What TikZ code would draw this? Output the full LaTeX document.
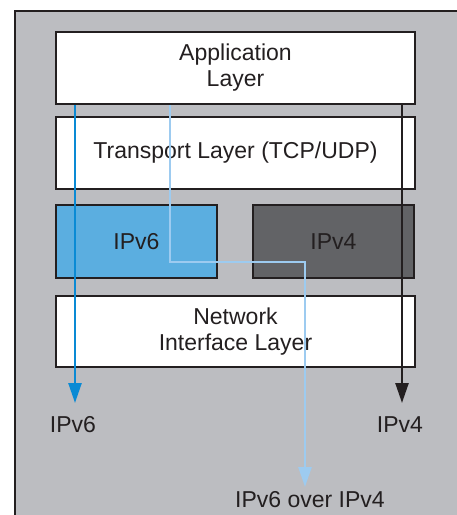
\documentclass[tikz,border=0pt]{standalone}
\usepackage{fontspec}
\setmainfont{Liberation Sans}
\usetikzlibrary{arrows.meta}
\definecolor{bggray}{HTML}{BCBDC1}
\definecolor{edge}{HTML}{231F20}
\definecolor{v6fill}{HTML}{5BAEE0}
\definecolor{v4fill}{HTML}{626366}
\definecolor{v6line}{HTML}{0A8AD4}
\definecolor{tunline}{HTML}{9DCBF0}
\begin{document}
\begin{tikzpicture}[x=1pt,y=-1pt,
  layer/.style={draw=edge,line width=1.8pt,fill=white,minimum width=359pt,inner sep=0pt,
    align=center,font=\fontsize{23}{26}\selectfont,text=edge},
  half/.style={layer,minimum width=161pt,minimum height=73pt},
  lbl/.style={font=\fontsize{23}{26}\selectfont,text=edge,inner sep=0pt,anchor=base},
  flow/.style={line width=2.5pt,-{Triangle[length=20pt,width=13pt]}}]
\useasboundingbox (0,0) rectangle (457,515);
\clip (0,0) rectangle (457,515);
\draw[fill=bggray,draw=edge,line width=2.5pt] (15,11) rectangle (480,540);
\node[layer,minimum height=72pt] (app) at (235.5,68) {Application\\Layer};
\node[layer,minimum height=72pt] (trans) at (235.5,153) {Transport Layer (TCP/UDP)};
\node[half,fill=v6fill] (ip6) at (136.5,241.5) {IPv6};
\node[half,fill=v4fill] (ip4) at (333.5,241.5) {IPv4};
\node[layer,minimum height=71pt] (net) at (235.5,331.5) {Network\\Interface Layer};
\node[lbl] (l6) at (73,432) {IPv6};
\node[lbl] (l4) at (400,432) {IPv4};
\node[lbl] (lt) at (310,507) {IPv6 over IPv4};
\coordinate (e6) at (75,403);
\coordinate (e4) at (402,403);
\coordinate (et) at (305,487);
\coordinate (turn) at (170,262);
\draw[flow,draw=v6line] (app.south -| e6) -- (e6);
\draw[flow,draw=edge] (app.south -| e4) -- (e4);
\draw[flow,draw=tunline] (app.south -| turn) -- (turn) -| (et);
\end{tikzpicture}
\end{document}
